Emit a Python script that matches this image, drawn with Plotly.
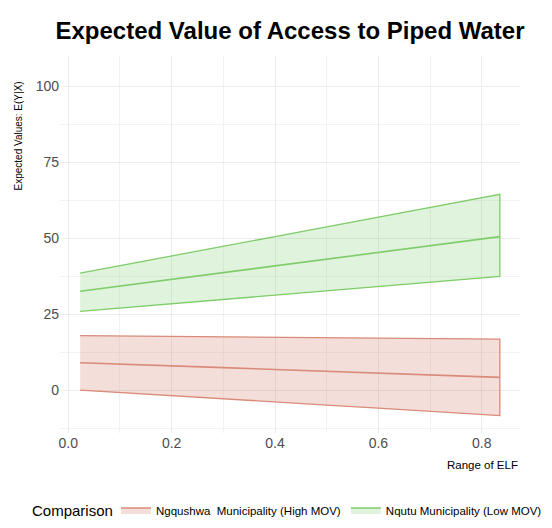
import plotly.graph_objects as go

elf = [0.023, 0.1, 0.2, 0.3, 0.4, 0.5, 0.6, 0.7, 0.8, 0.835]

ngq_mean = [9.1, 8.6, 8.0, 7.5, 6.9, 6.3, 5.7, 5.1, 4.5, 4.3]
ngq_low = [0.1, -0.7, -1.7, -2.8, -3.8, -4.8, -5.8, -6.9, -7.9, -8.3]
ngq_high = [18.0, 17.9, 17.8, 17.6, 17.5, 17.4, 17.2, 17.1, 17.0, 16.9]

nqu_mean = [32.6, 34.3, 36.5, 38.7, 41.0, 43.2, 45.4, 47.6, 49.8, 50.6]
nqu_low = [26.0, 27.1, 28.5, 29.9, 31.3, 32.8, 34.2, 35.6, 37.0, 37.5]
nqu_high = [38.6, 41.0, 44.2, 47.4, 50.6, 53.8, 57.0, 60.2, 63.4, 64.5]

series = [
    ("Ngqushwa  Municipality (High MOV)", ngq_mean, ngq_low, ngq_high,
     "#d98a78", "rgba(217,138,120,0.28)"),
    ("Nqutu Municipality (Low MOV)", nqu_mean, nqu_low, nqu_high,
     "#7fcc6b", "rgba(127,204,107,0.24)"),
]

FONT = "Liberation Sans, Arial, sans-serif"

fig = go.Figure()
for name, mean, low, high, lc, fc in series:
    fig.add_trace(go.Scatter(
        x=elf + elf[::-1], y=high + low[::-1],
        fill="toself", fillcolor=fc,
        line=dict(color=lc, width=1.3),
        mode="lines", name=name, showlegend=True, hoverinfo="skip"))
    fig.add_trace(go.Scatter(
        x=elf, y=mean, mode="lines",
        line=dict(color=lc, width=1.6), showlegend=False))

fig.update_layout(
    width=552, height=528,
    margin=dict(l=60, r=32, t=56, b=95, autoexpand=False),
    plot_bgcolor="white", paper_bgcolor="white",
    font=dict(family=FONT, color="#4d4d4d"),
    title=dict(text="<b>Expected Value of Access to Piped Water</b>",
               x=0.5, xref="paper", xanchor="center",
               y=1 - 31 / 528, yanchor="middle",
               font=dict(family=FONT, size=24, color="black")),
    showlegend=True,
    legend=dict(orientation="h", x=(116 - 60) / 460, xanchor="left",
                y=(433 - 510) / 377, yanchor="middle",
                font=dict(size=11.5, color="black"),
                itemwidth=30, tracegroupgap=0),
)

fig.update_xaxes(
    range=[-0.016, 0.874],
    tickmode="array", tickvals=[0.0, 0.2, 0.4, 0.6, 0.8],
    ticktext=["0.0", "0.2", "0.4", "0.6", "0.8"],
    tickfont=dict(size=14, color="#4d4d4d"),
    showgrid=True, gridcolor="#ebebeb", gridwidth=1.1,
    minor=dict(tickvals=[0.1, 0.3, 0.5, 0.7], showgrid=True,
               gridcolor="#f2f2f2", gridwidth=0.6),
    zeroline=False, showline=False, ticks="", ticklen=0,
    automargin=False,
)
fig.update_yaxes(
    range=[-14, 110],
    tickmode="array", tickvals=[0, 25, 50, 75, 100],
    ticktext=["0", "25", "50", "75", "100"],
    tickfont=dict(size=14, color="#4d4d4d"),
    showgrid=True, gridcolor="#ebebeb", gridwidth=1.1,
    minor=dict(tickvals=[-12.5, 12.5, 37.5, 62.5, 87.5], showgrid=True,
               gridcolor="#f2f2f2", gridwidth=0.6),
    zeroline=False, showline=False, ticks="", ticklen=0,
    automargin=False,
)

fig.add_annotation(text="Comparison", xref="paper", yref="paper",
                   x=(30 - 60) / 460, xanchor="left", y=(433 - 510) / 377, yanchor="middle",
                   showarrow=False, font=dict(size=15, color="black", family=FONT))
fig.add_annotation(text="Range of ELF", xref="paper", yref="paper",
                   x=1, xanchor="right", y=(433 - 465) / 377, yanchor="middle",
                   showarrow=False, font=dict(size=11.5, color="black", family=FONT))
fig.add_annotation(text="Expected Values: E(Y|X)", xref="paper", yref="paper",
                   x=(18 - 60) / 460, xanchor="center", y=(433 - 80) / 377, yanchor="top",
                   textangle=-90, showarrow=False,
                   font=dict(size=10, color="black", family=FONT))

fig.write_html("out.html", config={"displayModeBar": False},
               post_script="document.body.style.margin='0px';")
